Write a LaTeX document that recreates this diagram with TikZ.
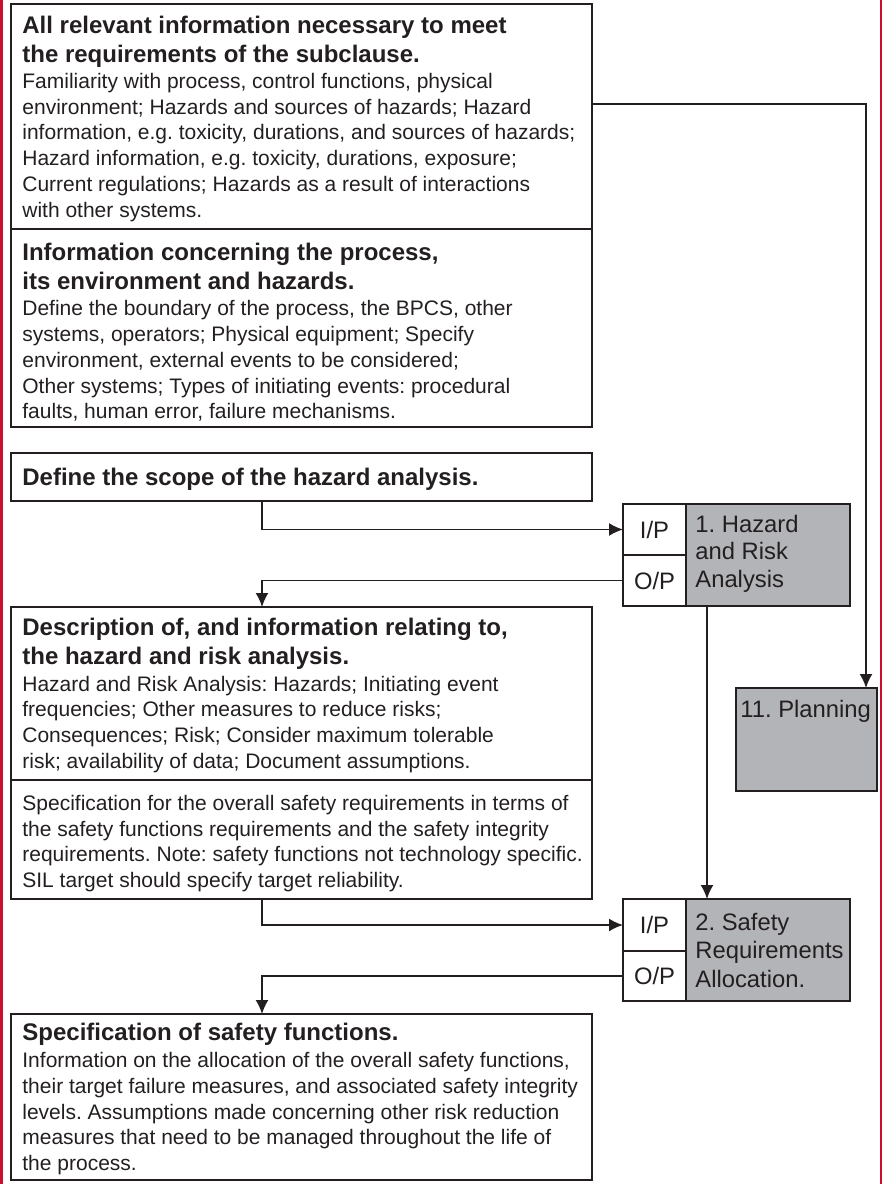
\documentclass[tikz,border=0pt]{standalone}
\usepackage{fontspec}
\setmainfont{Liberation Sans}
\usetikzlibrary{arrows.meta}

\definecolor{ink}{RGB}{35,31,32}
\definecolor{rim}{RGB}{200,16,46}
\definecolor{shade}{RGB}{179,180,183}

\newcommand{\headline}[1]{{\fontsize{12}{12.85}\selectfont\bfseries #1}}

\begin{document}
\frenchspacing
\begin{tikzpicture}[x=0.5pt,y=-0.5pt,line join=miter,>={Latex[length=7pt,width=6.5pt]},
  box/.style={draw=ink,line width=0.8pt,anchor=north west,inner sep=0pt,outer sep=0pt},
  grey/.style={box,fill=shade},
  txt/.style={anchor=north west,inner sep=0pt,align=left,text=ink,font=\fontsize{10.5}{12.85}\selectfont},
  tag/.style={anchor=north west,inner sep=0pt,align=left,text=ink,font=\fontsize{11.9}{13.75}\selectfont},
  port/.style={box,text=ink,font=\fontsize{11.9}{13.75}\selectfont,minimum width=31.5pt},
  flow/.style={draw=ink,line width=0.85pt,->}]
  \useasboundingbox (0,0) rectangle (882,1184);

  % side rules
  \draw[rim,line width=1.4pt] (1.5,0) -- (1.5,1184);
  \draw[rim,line width=0.9pt] (881,0) -- (881,1184);

  % left column
  \node[box,minimum width=290.5pt,minimum height=112.5pt] (boxA) at (11,4) {};
  \node[box,minimum width=290.5pt,minimum height=99pt] (boxB) at (11,229) {};
  \node[box,minimum width=290.5pt,minimum height=24pt] (boxC) at (11,453) {};
  \node[box,minimum width=290.5pt,minimum height=86.5pt] (boxD) at (11,607) {};
  \node[box,minimum width=290.5pt,minimum height=59.5pt] (boxDD) at (11,780) {};
  \node[box,minimum width=290.5pt,minimum height=83pt] (boxE) at (11,1014) {};

  \node[txt] (txtA) at (22,15.5) {\headline{All relevant information necessary to meet}\\[1.65pt]
    \headline{the requirements of the subclause.}\\[0.3pt]
    Familiarity with process, control functions, physical\\
    environment; Hazards and sources of hazards; Hazard\\
    information, e.g. toxicity, durations, and sources of hazards;\\
    Hazard information, e.g. toxicity, durations, exposure;\\
    Current regulations; Hazards as a result of interactions\\
    with other systems.};
  \node[txt] (txtB) at (22,242.5) {\headline{Information concerning the process,}\\[1.65pt]
    \headline{its environment and hazards.}\\[0.5pt]
    Define the boundary of the process, the BPCS, other\\
    systems, operators; Physical equipment; Specify\\
    environment, external events to be considered;\\
    Other systems; Types of initiating events: procedural\\
    faults, human error, failure mechanisms.};
  \node[txt] (txtC) at (22,467.5) {\headline{Define the scope of the hazard analysis.}};
  \node[txt] (txtD) at (22,617.5) {\headline{Description of, and information relating to,}\\[1.65pt]
    \headline{the hazard and risk analysis.}\\[0.5pt]
    Hazard and Risk Analysis: Hazards; Initiating event\\
    frequencies; Other measures to reduce risks;\\
    Consequences; Risk; Consider maximum tolerable\\
    risk; availability of data; Document assumptions.};
  \node[txt] (txtDD) at (22,794.7) {Specification for the overall safety requirements in terms of\\
    the safety functions requirements and the safety integrity\\
    requirements. Note: safety functions not technology specific.\\
    SIL target should specify target reliability.};
  \node[txt] (txtE) at (22,1022.5) {\headline{Specification of safety functions.}\\[0.8pt]
    Information on the allocation of the overall safety functions,\\
    their target failure measures, and associated safety integrity\\
    levels. Assumptions made concerning other risk reduction\\
    measures that need to be managed throughout the life of\\
    the process.};

  % phase boxes
  \node[port,minimum height=25.5pt] (ipA) at (623,504) {I/P};
  \node[port,minimum height=25.5pt] (opA) at (623,555) {O/P};
  \node[grey,minimum width=82pt,minimum height=51pt] (hra) at (686,504) {};
  \node[tag] (hraT) at (695,514.7) {1. Hazard\\and Risk\\Analysis};

  \node[port,minimum height=26pt] (ipB) at (623,899) {I/P};
  \node[port,minimum height=25pt] (opB) at (623,951) {O/P};
  \node[grey,minimum width=82pt,minimum height=51pt] (sra) at (686,899) {};
  \node[tag,font=\fontsize{11.9}{14.2}\selectfont] (sraT) at (695,912.7) {2. Safety\\Requirements\\Allocation.};

  \node[grey,minimum width=70.5pt,minimum height=51.5pt] (plan) at (736,688) {};
  \node[tag] (planT) at (740,700) {11. Planning};

  \coordinate (tapA) at (592,104);
  \coordinate (inPlan) at (866,688);
  \coordinate (spine) at (262,0);
  \coordinate (hraOut) at (707,606);

  \draw[flow] (tapA) -| (inPlan);
  \draw[flow] (boxC.south -| spine) |- (ipA.west);
  \draw[flow] (opA.west) -| (boxD.north -| spine);
  \draw[flow] (hraOut) -- (hraOut |- sra.north);
  \draw[flow] (boxDD.south -| spine) |- (ipB.west);
  \draw[flow] (opB.west) -| (boxE.north -| spine);
\end{tikzpicture}
\end{document}
